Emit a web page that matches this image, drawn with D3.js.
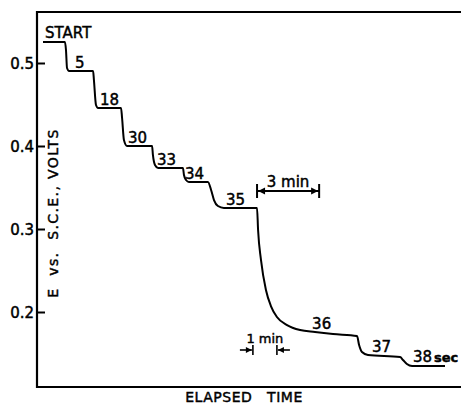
<!DOCTYPE html>
<html><head><meta charset="utf-8">
<script src="https://cdn.jsdelivr.net/npm/d3@7"></script>
<style>
html,body{margin:0;padding:0;background:#fff;}
text{font-family:"DejaVu Sans",sans-serif;fill:#000;stroke:#000;stroke-width:0.45px;}
</style></head>
<body><svg id="c" width="461" height="405"></svg>
<script>
// Elapsed time (min, from an arbitrary origin) and potential E vs. S.C.E. (V)
const timeMin = [0.29,1.35,1.40,1.45,1.55,2.71,2.75,2.85,2.95,4.06,4.11,4.20,4.35,5.56,5.60,5.70,5.85,7.05,7.10,7.20,7.34,8.26,8.41,8.55,8.74,9.03,10.63,10.68,10.82,11.06,11.30,11.59,12.08,12.71,13.43,14.30,15.46,15.56,15.70,15.99,17.54,17.68,17.87,18.12,19.71];
const volts   = [0.5253,0.5253,0.5157,0.4940,0.4904,0.4904,0.4795,0.4494,0.4458,0.4458,0.4337,0.4072,0.4000,0.4000,0.3892,0.3771,0.3735,0.3735,0.3651,0.3590,0.3566,0.3566,0.3470,0.3349,0.3277,0.3253,0.3253,0.2988,0.2627,0.2265,0.2072,0.1940,0.1843,0.1783,0.1759,0.1735,0.1711,0.1602,0.1518,0.1482,0.1458,0.1422,0.1373,0.1349,0.1349];
// Step labels (seconds), with where they sit
const stepLabels = ["START","5","18","30","33","34","35","36","37","38"];
const labelTime  = [0.39,1.84,3.04,4.40,5.80,7.15,9.13,13.29,16.18,18.16];
const labelVolts = [0.5301,0.4940,0.4494,0.4036,0.3771,0.3602,0.3289,0.1795,0.1518,0.1398];
const yTicks = [0.2,0.3,0.4,0.5];
const yTickLabels = ["0.2","0.3","0.4","0.5"];
// Time scale brackets (min)
const bar3min = [10.63,13.63];
const bar1min = [10.43,11.59];

const svg = d3.select("#c");
const L=37, T=12, B=387, R=470;
const x = d3.scaleLinear().domain([0,(R-L)/20.7]).range([L,R]);
const y = d3.scaleLinear().domain([0.2,0.5]).range([312,63]);

// frame
svg.append("path").attr("d",`M${R},${T}H${L}V${B}H${R}`).attr("fill","none").attr("stroke","#000").attr("stroke-width",2.2);

// y axis ticks (inward) + labels
const yAxis = d3.axisLeft(y).tickValues(yTicks).tickFormat((d,i)=>yTickLabels[i]).tickSize(-8).tickPadding(12);
const ga = svg.append("g").attr("transform",`translate(${L},0)`).call(yAxis);
ga.select(".domain").remove();
ga.selectAll(".tick line").attr("stroke","#000").attr("stroke-width",2);
ga.selectAll(".tick text").attr("font-family","DejaVu Sans").attr("font-size",15).attr("fill","#000").attr("x",-3).attr("dy","0.36em");

// curve
const pts = timeMin.map((t,i)=>[t,volts[i]]);
svg.append("path").datum(pts)
  .attr("d",d3.line().x(d=>x(d[0])).y(d=>y(d[1])).curve(d3.curveMonotoneX))
  .attr("fill","none").attr("stroke","#000").attr("stroke-width",2).attr("stroke-linejoin","round");

// step labels
stepLabels.forEach((s,i)=>{
  const t = svg.append("text").attr("x",x(labelTime[i])).attr("y",y(labelVolts[i])).attr("font-size",15);
  t.append("tspan").text(s);
  if(s==="38") t.append("tspan").attr("font-size",13).attr("font-weight","bold").attr("dx",2).text("sec");
});

// axis titles
svg.append("text").attr("transform",`translate(58,${213}) rotate(-90)`).attr("text-anchor","middle")
  .attr("font-size",14).attr("letter-spacing",1.4).style("white-space","pre").text("E  vs.  S.C.E., VOLTS");
svg.append("text").attr("x",244).attr("y",402).attr("text-anchor","middle").attr("font-size",14)
  .attr("letter-spacing",0.5).style("white-space","pre").text("ELAPSED   TIME");

// 3 min bracket
const yb3 = 191;
const g3 = svg.append("g").attr("stroke","#000").attr("stroke-width",2);
g3.append("line").attr("x1",x(bar3min[0])).attr("x2",x(bar3min[1])).attr("y1",yb3).attr("y2",yb3);
[0,1].forEach(k=>{
  const xv=x(bar3min[k]);
  g3.append("line").attr("x1",xv).attr("x2",xv).attr("y1",yb3-7).attr("y2",yb3+7);
  const d = k===0?1:-1;
  svg.append("path").attr("d",`M${xv+d},${yb3}L${xv+d*8},${yb3-3.5}L${xv+d*8},${yb3+3.5}Z`).attr("fill","#000");
});
svg.append("text").attr("x",(x(bar3min[0])+x(bar3min[1]))/2).attr("y",yb3-4).attr("text-anchor","middle").attr("font-size",15).text("3 min");

// 1 min bracket
const yb1 = 350;
const g1 = svg.append("g").attr("stroke","#000").attr("stroke-width",1.6);
[0,1].forEach(k=>{
  const xv=x(bar1min[k]);
  const d = k===0?-1:1;
  g1.append("line").attr("x1",xv).attr("x2",xv).attr("y1",yb1-5).attr("y2",yb1+5);
  g1.append("line").attr("x1",xv+d*1).attr("x2",xv+d*13).attr("y1",yb1).attr("y2",yb1);
  svg.append("path").attr("d",`M${xv+d*1},${yb1}L${xv+d*7},${yb1-3}L${xv+d*7},${yb1+3}Z`).attr("fill","#000");
});
svg.append("text").attr("x",(x(bar1min[0])+x(bar1min[1]))/2).attr("y",yb1-7).attr("text-anchor","middle").attr("font-size",13).text("1 min");
</script></body></html>
